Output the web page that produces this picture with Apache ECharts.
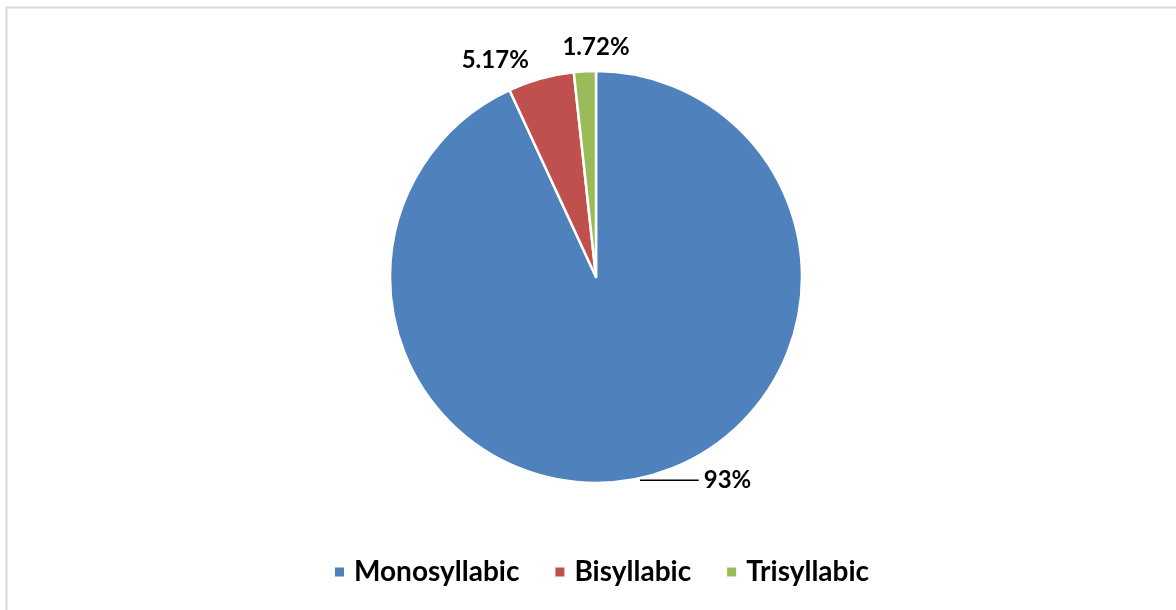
<!DOCTYPE html>
<html><head><meta charset="utf-8">
<script src="https://cdn.jsdelivr.net/npm/echarts@6/dist/echarts.min.js"></script>
<style>html,body{margin:0;padding:0;background:#fff}#c{width:1176px;height:610px}</style>
</head><body><div id="c"></div>
<script>
const categories = ['Monosyllabic', 'Bisyllabic', 'Trisyllabic'];
const values = [93, 5.17, 1.72];
const labels = ['93%', '5.17%', '1.72%'];
const colors = ['#4F81BD', '#C0504D', '#9BBB59'];

const chart = echarts.init(document.getElementById('c'));
const font = 'Lato';
const lineCfg = [
  {show: true, length: 2, length2: 58},
  {show: false, length: 19, length2: 2},
  {show: false, length: 24, length2: 0}
];
chart.setOption({
  animation: false,
  graphic: [{type: 'rect', shape: {x: 6.5, y: 7.5, width: 1300, height: 800},
    style: {fill: 'none', stroke: '#d9d9d9', lineWidth: 2}, silent: true}],
  legend: {
    top: 553, left: 328, itemWidth: 11, itemHeight: 11, itemGap: 34,
    icon: 'rect',
    textStyle: {fontFamily: font, fontWeight: 'bold', fontSize: 28, color: '#000', padding: [0, 0, 0, 4]},
    data: categories
  },
  series: [{
    type: 'pie',
    center: [596, 277],
    radius: [0, 206],
    startAngle: 90,
    clockwise: true,
    avoidLabelOverlap: false,
    itemStyle: {borderColor: '#fff', borderWidth: 2.5},
    label: {show: true, position: 'outside', fontFamily: font, fontWeight: 'bold', fontSize: 24, color: '#000'},
    labelLine: {lineStyle: {color: '#000', width: 1.5}, smooth: false},
    labelLayout: function (p) { return p.dataIndex === 2 ? {dx: 51} : {}; },
    data: categories.map((n, i) => ({
      name: n, value: values[i],
      itemStyle: {color: colors[i]},
      label: {formatter: labels[i]},
      labelLine: lineCfg[i]
    }))
  }]
});
</script></body></html>
